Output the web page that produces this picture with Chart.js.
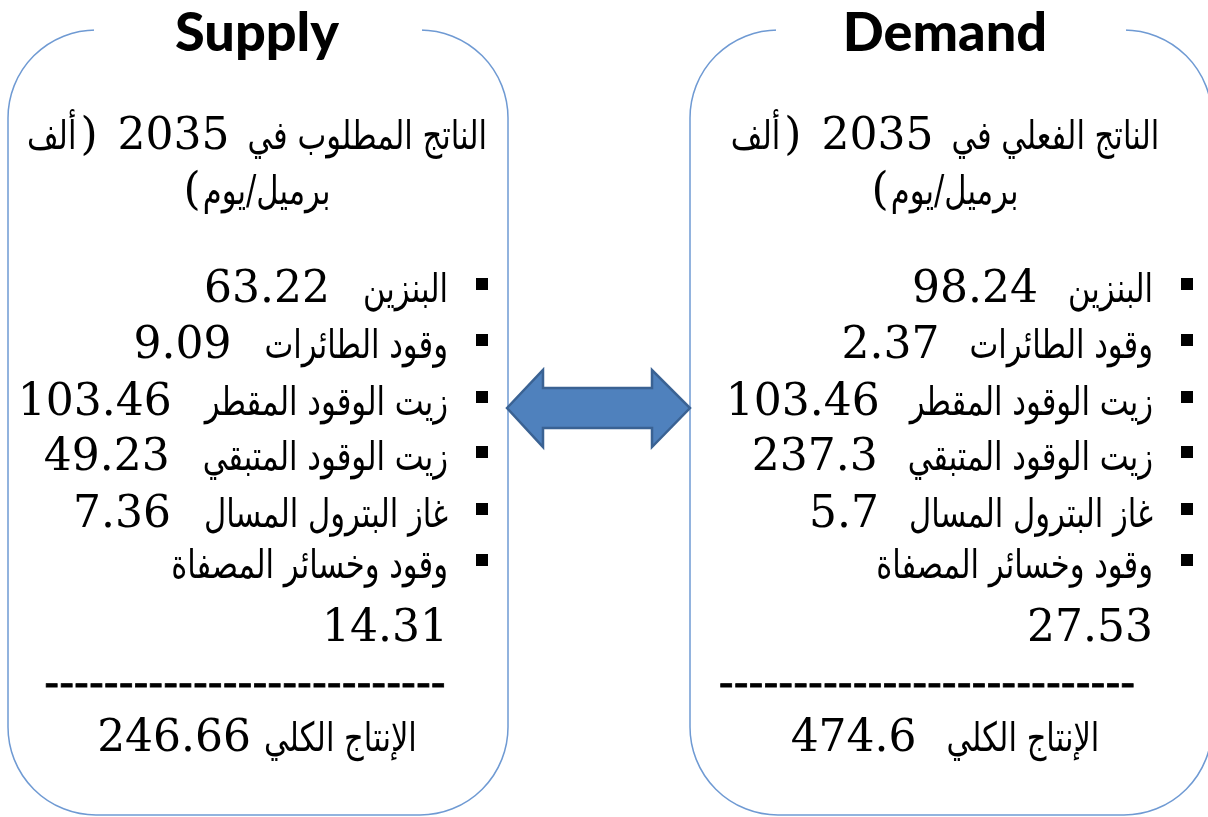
<!DOCTYPE html>
<html>
<head>
<meta charset="utf-8">
<script src="https://cdn.jsdelivr.net/npm/chart.js@4"></script>
<style>
  body { margin: 0; background: #fff; }
  #board { display: block; }
</style>
</head>
<body>
<canvas id="board" width="1208" height="817"></canvas>
<script>
// values (thousand barrels/day, 2035)
const fuelLabels = ['البنزين', 'وقود الطائرات', 'زيت الوقود المقطر', 'زيت الوقود المتبقي', 'غاز البترول المسال', 'وقود وخسائر المصفاة'];
const supplyValues = [63.22, 9.09, 103.46, 49.23, 7.36, 14.31];
const demandValues = [98.24, 2.37, 103.46, 237.3, 5.7, 27.53];
const panelTitles = ['Supply', 'Demand'];
const panelHeadings = ['الناتج المطلوب في', 'الناتج الفعلي في'];
const headingYear = '2035';
const unitWords = ['ألف', 'برميل/يوم'];
const totalLabel = 'الإنتاج الكلي';
const totals = [246.66, 474.6];

const AR = "40px 'DejaVu Sans Condensed', 'DejaVu Sans'";
const NUM = "44px 'DejaVu Serif'";
const SQUEEZE = 0.85;   // arabic glyphs in the picture are narrower
const BOX_COLOR = '#6f9ad3';

// panel geometry (pixels)
const panels = [
  { x: 8, w: 500, cx: 257, labelRight: 448, bulletX: 482, gap: 33, totGap: 13, dashes: 27, dashCx: 245 },
  { x: 690, w: 522, cx: 945, labelRight: 1153, bulletX: 1187, gap: 30, totGap: 30, dashes: 28, dashCx: 927 }
];
const rowBase = [302, 358, 415, 470, 527, 578];

function arWidth(ctx, t) {
  ctx.font = AR;
  return ctx.measureText(t).width * SQUEEZE;
}

// parts are given in visual order, left to right
function drawRun(ctx, parts, x, y, align) {
  let total = 0;
  parts.forEach(p => {
    ctx.font = p.f;
    p.w = p.f === AR ? arWidth(ctx, p.t) : ctx.measureText(p.t).width;
    total += p.w + (p.gap || 0);
  });
  let cur = align === 'center' ? x - total / 2 : (align === 'right' ? x - total : x);
  ctx.textAlign = 'left';
  parts.forEach(p => {
    ctx.font = p.f;
    if (p.f === AR) ctx.fillText(p.t, cur, y, p.w);
    else ctx.fillText(p.t, cur, y);
    cur += p.w + (p.gap || 0);
  });
}

const infographic = {
  id: 'infographic',
  afterDraw(chart) {
    const ctx = chart.ctx;
    ctx.save();
    ctx.fillStyle = '#fff';
    ctx.fillRect(0, 0, chart.width, chart.height);

    // rounded panels, top edge broken by the titles
    panels.forEach(p => {
      ctx.beginPath();
      ctx.roundRect(p.x, 30, p.w, 785, 88);
      ctx.strokeStyle = BOX_COLOR;
      ctx.lineWidth = 1.5;
      ctx.stroke();
      ctx.fillStyle = '#fff';
      ctx.fillRect(p.x + 86, 24, p.w - 172, 12);
    });

    // double arrow between the panels
    const a = [[507, 408], [543, 370], [543, 388], [652, 388], [652, 370], [690, 408],
               [652, 447], [652, 428], [543, 428], [543, 447]];
    ctx.beginPath();
    a.forEach((pt, i) => i ? ctx.lineTo(pt[0], pt[1]) : ctx.moveTo(pt[0], pt[1]));
    ctx.closePath();
    ctx.fillStyle = '#4f81bd';
    ctx.fill();
    ctx.strokeStyle = '#3a6293';
    ctx.lineWidth = 2.5;
    ctx.stroke();

    ctx.fillStyle = '#000';
    ctx.strokeStyle = '#000';
    ctx.textBaseline = 'alphabetic';

    chart.data.datasets.forEach((ds, i) => {
      const p = panels[i];

      // title
      ctx.font = "900 54px 'Lato'";
      ctx.textAlign = 'center';
      ctx.fillText(panelTitles[i], p.cx, 51);

      // heading: two lines (paren glyphs as they appear in the picture)
      drawRun(ctx, [
        { t: unitWords[0], f: AR, gap: 4 },
        { t: ')', f: NUM, gap: 20 },
        { t: headingYear, f: NUM, gap: 18 },
        { t: panelHeadings[i], f: AR }
      ], p.cx, 149, 'center');
      drawRun(ctx, [
        { t: '(', f: NUM, gap: 2 },
        { t: unitWords[1], f: AR }
      ], p.cx, 204, 'center');

      // rows
      ds.data.forEach((v, r) => {
        const y = rowBase[r];
        const label = chart.data.labels[r];
        ctx.fillRect(p.bulletX - 6, y - 24, 12, 12);
        const lw = arWidth(ctx, label);
        ctx.textAlign = 'right';
        ctx.fillText(label, p.labelRight, y, lw);
        ctx.font = NUM;
        if (r === ds.data.length - 1) {
          ctx.fillText(String(v), p.labelRight, 641);
        } else {
          ctx.fillText(String(v), p.labelRight - lw - p.gap, y);
        }
      });

      // separator
      ctx.font = NUM;
      ctx.textAlign = 'center';
      ctx.lineWidth = 0.8;
      ctx.fillText('-'.repeat(p.dashes), p.dashCx, 697);
      ctx.strokeText('-'.repeat(p.dashes), p.dashCx, 697);

      // total
      drawRun(ctx, [
        { t: String(totals[i]), f: NUM, gap: p.totGap },
        { t: totalLabel, f: AR }
      ], p.cx, 751, 'center');
    });
    ctx.restore();
  }
};

new Chart(document.getElementById('board'), {
  type: 'bar',
  data: {
    labels: fuelLabels,
    datasets: [
      { label: panelTitles[0], data: supplyValues, hidden: true },
      { label: panelTitles[1], data: demandValues, hidden: true }
    ]
  },
  options: {
    responsive: false,
    animation: false,
    plugins: { legend: { display: false }, tooltip: { enabled: false } },
    scales: { x: { display: false }, y: { display: false } }
  },
  plugins: [infographic]
});
</script>
</body>
</html>
